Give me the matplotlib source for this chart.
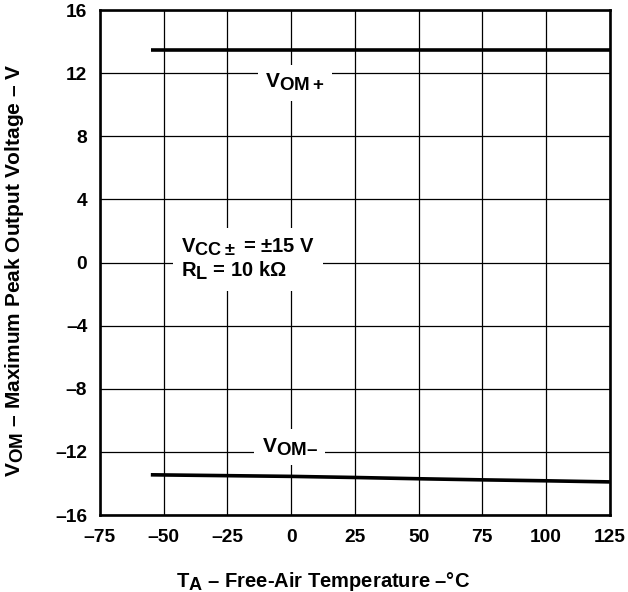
import numpy as np
import matplotlib
import matplotlib.pyplot as plt
import matplotlib._mathtext as mathtext_internals

plt.rcParams['font.family'] = ['Liberation Sans', 'DejaVu Sans']
plt.rcParams['font.weight'] = 'bold'
plt.rcParams['mathtext.fontset'] = 'custom'
plt.rcParams['mathtext.rm'] = 'Liberation Sans:bold'
plt.rcParams['mathtext.it'] = 'Liberation Sans:bold'
plt.rcParams['mathtext.bf'] = 'Liberation Sans:bold'
# datasheet-style subscripts are nearly full size
mathtext_internals.SHRINK_FACTOR = 0.9

# data
temp_pos = [-55, 125]
vom_pos = [13.45, 13.45]
temp_neg = [-55, 0, 25, 50, 75, 100, 125]
vom_neg = [-13.45, -13.55, -13.62, -13.7, -13.77, -13.83, -13.9]

x_ticks = [-75, -50, -25, 0, 25, 50, 75, 100, 125]
x_labels = ['–75', '–50', '–25', '0', '25', '50', '75', '100', '125']
y_ticks = [-16, -12, -8, -4, 0, 4, 8, 12, 16]
y_labels = ['–16', '–12', '–8', '–4', '0', '4', '8', '12', '16']

fig = plt.figure(figsize=(6.28, 5.92), dpi=100)
ax = fig.add_axes([0.159, 0.130, 0.812, 0.853])

ax.plot(temp_pos, vom_pos, color='black', lw=2.6, solid_capstyle='butt', zorder=3)
ax.plot(temp_neg, vom_neg, color='black', lw=2.6, solid_capstyle='butt', zorder=3)

ax.set_xlim(-75, 125)
ax.set_ylim(-16, 16)
ax.set_xticks(x_ticks)
ax.set_xticklabels(x_labels)
ax.set_yticks(y_ticks)
ax.set_yticklabels(y_labels)
ax.tick_params(length=0, labelsize=13.8, pad=9)
ax.tick_params(axis='x', pad=10)
ax.grid(True, color='black', lw=0.9)
ax.set_axisbelow(True)
for s in ax.spines.values():
    s.set_linewidth(1.9)

box = dict(facecolor='white', edgecolor='none', boxstyle='square,pad=0.35')
ax.text(1.5, 11.4, 'V$_\\mathrm{OM+}$', fontsize=15, ha='center', va='center', bbox=box, zorder=2)
ax.text(-0.5, -11.7, 'V$_\\mathrm{OM–}$', fontsize=15, ha='center', va='center', bbox=box, zorder=2)
ax.text(-43, 0.2, 'V$_\\mathrm{CC\\pm}$ = ±15 V\nR$_\\mathrm{L}$ = 10 kΩ', fontsize=14.5,
        ha='left', va='center', linespacing=1.15,
        bbox=dict(facecolor='white', edgecolor='none', boxstyle='square,pad=0.4'), zorder=2)

ax.set_xlabel('T$_\\mathrm{A}$ – Free-Air Temperature –°C', fontsize=14.5, fontweight='bold')
ax.xaxis.set_label_coords(0.437, -0.108)
ax.set_ylabel('V$_\\mathrm{OM}$ – Maximum Peak Output Voltage – V', fontsize=15, fontweight='bold')
ax.yaxis.set_label_coords(-0.145, 0.485)

fig.savefig('out.png', dpi=100)
